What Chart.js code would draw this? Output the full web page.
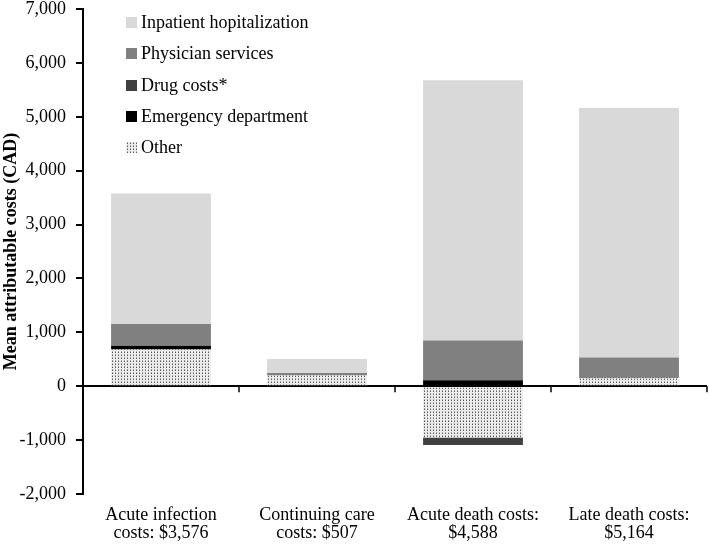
<!DOCTYPE html>
<html>
<head>
<meta charset="utf-8">
<script src="https://cdn.jsdelivr.net/npm/chart.js@4.4.1/dist/chart.umd.min.js"></script>
<style>
  html, body { margin: 0; padding: 0; background: #fff; }
  #wrap { position: relative; width: 709px; height: 546px; }
  #legend { position: absolute; left: 126px; top: 7px; font-family: "Liberation Serif", serif; font-size: 18px; color: #000; }
  #legend div { height: 31.3px; display: flex; align-items: center; }
  #legend span.box { display: inline-block; width: 11px; height: 11px; margin-right: 4px; }
</style>
</head>
<body>
<div id="wrap">
  <canvas id="chart" width="709" height="546"></canvas>
  <div id="legend"></div>
</div>
<script>
// categories (two-line labels)
const categories = [
    ["Acute infection", "costs: $3,576"],
    ["Continuing care", "costs: $507"],
    ["Acute death costs:", "$4,588"],
    ["Late death costs:", "$5,164"]
];

// series values, CAD (stacked from the axis outwards)
const otherCosts = [680, 200, -950, 150];
const emergencyCosts = [72, 0, 110, 0];
const drugCosts = [0, 0, -142, 0];
const physicianCosts = [404, 45, 740, 385];
const inpatientCosts = [2420, 262, 4830, 4629];

const seriesNames = ["Other", "Emergency department", "Drug costs*", "Physician services", "Inpatient hopitalization"];

// y ticks
const yMin = -2000;
const yMax = 7000;
const yStep = 1000;

const font = "'Liberation Serif', 'Times New Roman', serif";

// dotted fill for "Other"
function makePattern() {
    const c = document.createElement("canvas");
    c.width = 3;
    c.height = 3;
    const g = c.getContext("2d");
    g.fillStyle = "#ececec";
    g.fillRect(0, 0, 3, 3);
    g.fillStyle = "#5a5a5a";
    g.fillRect(1, 1, 1, 1);
    g.fillStyle = "#a8a8a8";
    g.fillRect(1, 0, 1, 1);
    return c;
}
const patternCanvas = makePattern();
const ctx = document.getElementById("chart").getContext("2d");
const otherFill = ctx.createPattern(patternCanvas, "repeat");

const colors = [otherFill, "#000000", "#404040", "#808080", "#d9d9d9"];
const values = [otherCosts, emergencyCosts, drugCosts, physicianCosts, inpatientCosts];

const datasets = values.map((v, i) => ({
    label: seriesNames[i],
    data: v,
    backgroundColor: colors[i],
    borderWidth: 0,
    barPercentage: 0.64,
    categoryPercentage: 1.0
}));

// short ticks hanging under the zero line, between categories
const zeroTicks = {
    id: "zeroTicks",
    afterDatasetsDraw(chart) {
        const xs = chart.scales.x;
        const ys = chart.scales.y;
        const y0 = ys.getPixelForValue(0);
        const c = chart.ctx;
        c.save();
        c.strokeStyle = "#000";
        c.lineWidth = 1.5;
        c.beginPath();
        for (let i = 1; i <= categories.length; i++) {
            const x = i < categories.length
                ? (xs.getPixelForTick(i - 1) + xs.getPixelForTick(i)) / 2
                : xs.right;
            c.moveTo(x, y0);
            c.lineTo(x, y0 + 6);
        }
        c.stroke();
        c.restore();
    }
};

new Chart(ctx, {
    type: "bar",
    data: { labels: categories, datasets: datasets },
    options: {
        responsive: false,
        animation: false,
        layout: { padding: { top: 0, right: 2, bottom: 0, left: 0 } },
        plugins: { legend: { display: false }, tooltip: { enabled: false } },
        scales: {
            x: {
                stacked: true,
                grid: { display: false, drawTicks: false },
                border: { display: false },
                ticks: { color: "#000", font: { family: font, size: 18, lineHeight: 1.0 }, padding: 12, maxRotation: 0 },
                afterFit(scale) {
                    scale.height = 52;
                    scale.paddingLeft = 0;
                    scale.paddingRight = 0;
                }
            },
            y: {
                stacked: true,
                min: yMin,
                max: yMax,
                ticks: {
                    stepSize: yStep,
                    color: "#000",
                    font: { family: font, size: 18, lineHeight: 1.0 },
                    padding: 10,
                    callback: (v) => v.toLocaleString("en-US")
                },
                grid: {
                    drawOnChartArea: true,
                    drawTicks: true,
                    tickLength: 7,
                    color: (c) => (c.tick && c.tick.value === 0 ? "#000" : "rgba(0,0,0,0)"),
                    tickColor: "#000",
                    lineWidth: 2
                },
                border: { display: true, color: "#000", width: 2 },
                title: { display: true, text: "Mean attributable costs (CAD)", color: "#000", font: { family: font, size: 18, weight: "bold", lineHeight: 1.0 }, padding: 2 },
                afterFit(scale) {
                    scale.width = 83;
                    scale.paddingTop = 9;
                    scale.paddingBottom = 0;
                }
            }
        }
    },
    plugins: [zeroTicks]
});

// legend, top-down order as in the figure
const legendEl = document.getElementById("legend");
const swatchUrl = patternCanvas.toDataURL();
for (let i = seriesNames.length - 1; i >= 0; i--) {
    const row = document.createElement("div");
    const box = document.createElement("span");
    box.className = "box";
    if (i === 0) {
        box.style.backgroundImage = `url(${swatchUrl})`;
    } else {
        box.style.background = colors[i];
    }
    row.appendChild(box);
    row.appendChild(document.createTextNode(seriesNames[i]));
    legendEl.appendChild(row);
}
</script>
</body>
</html>
